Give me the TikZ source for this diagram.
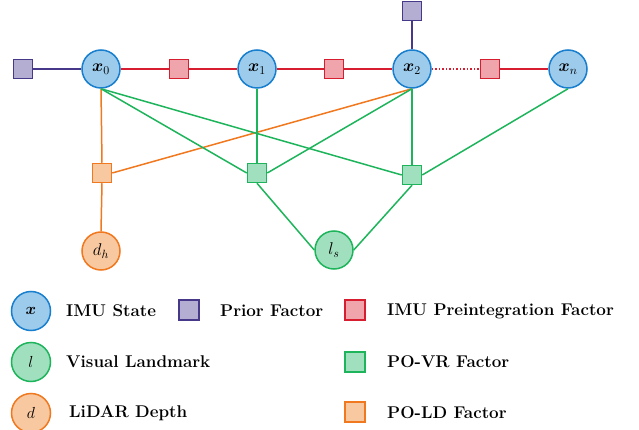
\RequirePackage{fix-cm}
\documentclass[tikz,border=0pt]{standalone}
\usepackage{amsmath}
\usepackage{bm}
\definecolor{bluefill}{RGB}{156,203,236}
\definecolor{bluedraw}{RGB}{24,126,206}
\definecolor{redfill}{RGB}{240,164,172}
\definecolor{reddraw}{RGB}{214,30,48}
\definecolor{purfill}{RGB}{180,174,210}
\definecolor{purdraw}{RGB}{72,56,138}
\definecolor{grnfill}{RGB}{160,224,190}
\definecolor{grndraw}{RGB}{30,180,92}
\definecolor{orgfill}{RGB}{248,200,160}
\definecolor{orgdraw}{RGB}{240,120,30}
\tikzset{
  statenode/.style={circle, draw=bluedraw, fill=bluefill, line width=1.5pt, minimum size=38pt, inner sep=0pt, font=\fontsize{17}{20}\selectfont},
  lmknode/.style={statenode, draw=grndraw, fill=grnfill},
  depthnode/.style={statenode, draw=orgdraw, fill=orgfill},
  keynode/.style={minimum size=39pt, font=\fontsize{16}{19}\selectfont},
  fac/.style={rectangle, line width=1.5pt, minimum size=19pt, inner sep=0pt},
  priorfac/.style={fac, draw=purdraw, fill=purfill},
  imufac/.style={fac, draw=reddraw, fill=redfill},
  vrfac/.style={fac, draw=grndraw, fill=grnfill},
  ldfac/.style={fac, draw=orgdraw, fill=orgfill},
  edge/.style={line width=1.5pt},
  legtext/.style={anchor=west, inner sep=0pt, font=\fontsize{17}{20}\selectfont\bfseries},
}
\begin{document}
\begin{tikzpicture}[x=1pt,y=-1pt]
\useasboundingbox (0,0) rectangle (639,430);

% state chain
\node[statenode] (x0) at (101,69) {$\bm{x}_0$};
\node[statenode] (x1) at (257,69) {$\bm{x}_1$};
\node[statenode] (x2) at (412,69) {$\bm{x}_2$};
\node[statenode] (xn) at (568,69) {$\bm{x}_n$};

% prior and IMU factors
\node[priorfac] (p0) at (23,69) {};
\node[priorfac] (p2) at (412,11) {};
\node[imufac] (i01) at (179,69) {};
\node[imufac] (i12) at (334,69) {};
\node[imufac] (i2n) at (490,69) {};

% visual and depth factors
\node[ldfac] (ld) at (102,173) {};
\node[vrfac] (vr1) at (257,173) {};
\node[vrfac] (vr2) at (412,175) {};

% landmark and depth
\node[depthnode] (dh) at (101,251) {$d_h$};
\node[lmknode] (ls) at (334,250) {$l_s$};

% edges
\draw[edge, purdraw] (p0) -- (x0);
\draw[edge, purdraw] (p2) -- (x2);
\draw[edge, reddraw] (x0) -- (i01) -- (x1) -- (i12) -- (x2);
\draw[edge, reddraw, dotted] (x2) -- (i2n);
\draw[edge, reddraw] (i2n) -- (xn);

\draw[edge, orgdraw] (x0.south) -- (ld.north);
\draw[edge, orgdraw] (ld.south) -- (dh.north);
\draw[edge, orgdraw] (x2.south) -- (ld.east);

\draw[edge, grndraw] (x0.south) -- (vr1.west);
\draw[edge, grndraw] (x0.south) -- (vr2.west);
\draw[edge, grndraw] (x1.south) -- (vr1.north);
\draw[edge, grndraw] (x2.south) -- (vr1.east);
\draw[edge, grndraw] (x2.south) -- (vr2.north);
\draw[edge, grndraw] (xn.south) -- (vr2.east);
\draw[edge, grndraw] (vr1.south) -- (ls.west);
\draw[edge, grndraw] (vr2.south) -- (ls.east);

% legend
\node[statenode, keynode] (kx) at (31,311) {$\bm{x}$};
\node[legtext] (tx) at (66,311) {IMU State};
\node[priorfac, minimum size=20pt] (kp) at (189,310) {};
\node[legtext] (tp) at (220,311) {Prior Factor};
\node[imufac, minimum size=20pt] (ki) at (355,310) {};
\node[legtext] (ti) at (387,311) {IMU Preintegration Factor};

\node[lmknode, keynode] (kl) at (31,362) {$l$};
\node[legtext] (tl) at (66,362) {Visual Landmark};
\node[vrfac, minimum size=20pt] (kv) at (355,362) {};
\node[legtext] (tv) at (387,362) {PO-VR Factor};

\node[depthnode, keynode] (kd) at (31,413) {$d$};
\node[legtext] (td) at (69,413) {LiDAR Depth};
\node[ldfac, minimum size=20pt] (ko) at (355,412) {};
\node[legtext] (to) at (387,413) {PO-LD Factor};
\end{tikzpicture}
\end{document}
